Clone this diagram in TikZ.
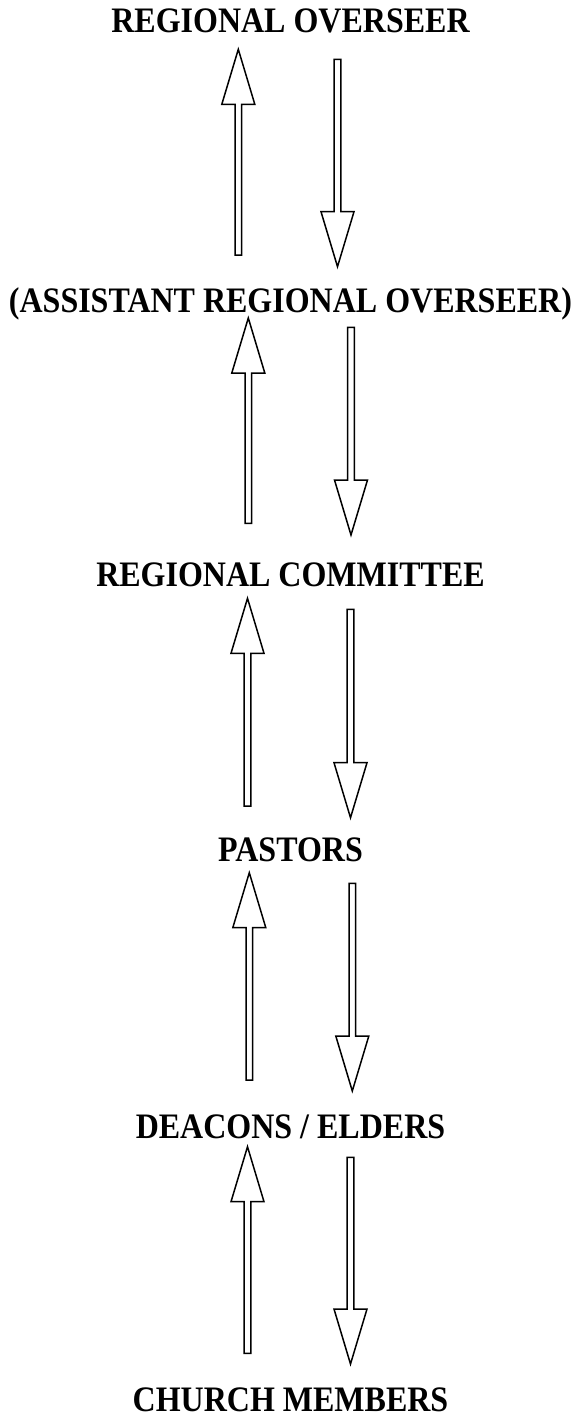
\documentclass[tikz,border=0pt]{standalone}
\usepackage{fontspec}
\setmainfont{Liberation Serif}
\usetikzlibrary{calc}

\newcommand{\rankname}[1]{\scalebox{1}[1.12]{#1}}

\tikzset{
  upblock/.style={draw, line width=1.5pt, to path={
    let \p1=(\tikztostart), \p2=(\tikztotarget) in
    (\x1-3.3pt,\y1) -- (\x1-3.3pt,\y2-55pt) -- (\x1-16.5pt,\y2-55pt) -- (\x1,\y2)
    -- (\x1+16.5pt,\y2-55pt) -- (\x1+3.3pt,\y2-55pt) -- (\x1+3.3pt,\y1) -- cycle}},
  downblock/.style={draw, line width=1.5pt, to path={
    let \p1=(\tikztostart), \p2=(\tikztotarget) in
    (\x1-3.3pt,\y1) -- (\x1-3.3pt,\y2+55pt) -- (\x1-16.5pt,\y2+55pt) -- (\x1,\y2)
    -- (\x1+16.5pt,\y2+55pt) -- (\x1+3.3pt,\y2+55pt) -- (\x1+3.3pt,\y1) -- cycle}}
}

\begin{document}
\begin{tikzpicture}[x=1pt, y=-1pt,
  rank/.style={font=\fontsize{32}{38}\selectfont\bfseries, inner sep=0pt, anchor=base}
]
  \useasboundingbox (0,0) rectangle (581,1416);

  % ranks, top to bottom
  \node[rank] (ro)  at (290.5,32.5)  {\rankname{REGIONAL OVERSEER}};
  \node[rank] (aro) at (290.5,312)   {\rankname{(ASSISTANT REGIONAL OVERSEER)}};
  \node[rank] (rc)  at (290.5,586)   {\rankname{REGIONAL COMMITTEE}};
  \node[rank] (pas) at (290.5,861.5) {\rankname{PASTORS}};
  \node[rank] (dea) at (290.5,1138)  {\rankname{DEACONS / ELDERS}};
  \node[rank] (mem) at (290.5,1411)  {\rankname{CHURCH MEMBERS}};

  % up and down between ranks
  \draw[upblock]   ($(aro.base)+(-52.2,-57)$) to ($(ro.base)+(-52.2,16.8)$);
  \draw[downblock] ($(ro.base)+(47,26.8)$)    to ($(aro.base)+(47,-45.3)$);

  \draw[upblock]   ($(rc.base)+(-42.2,-62.7)$) to ($(aro.base)+(-42.2,6)$);
  \draw[downblock] ($(aro.base)+(60.5,15.3)$)  to ($(rc.base)+(60.5,-51)$);

  \draw[upblock]   ($(pas.base)+(-43,-55.5)$) to ($(rc.base)+(-43,12.3)$);
  \draw[downblock] ($(rc.base)+(60,23.3)$)    to ($(pas.base)+(60,-43.8)$);

  \draw[upblock]   ($(dea.base)+(-41.2,-58)$) to ($(pas.base)+(-41.2,11.2)$);
  \draw[downblock] ($(pas.base)+(61.8,21.8)$) to ($(dea.base)+(61.8,-47)$);

  \draw[upblock]   ($(mem.base)+(-43,-57.7)$) to ($(dea.base)+(-43,8.7)$);
  \draw[downblock] ($(dea.base)+(60,19.3)$)   to ($(mem.base)+(60,-47)$);
\end{tikzpicture}
\end{document}
